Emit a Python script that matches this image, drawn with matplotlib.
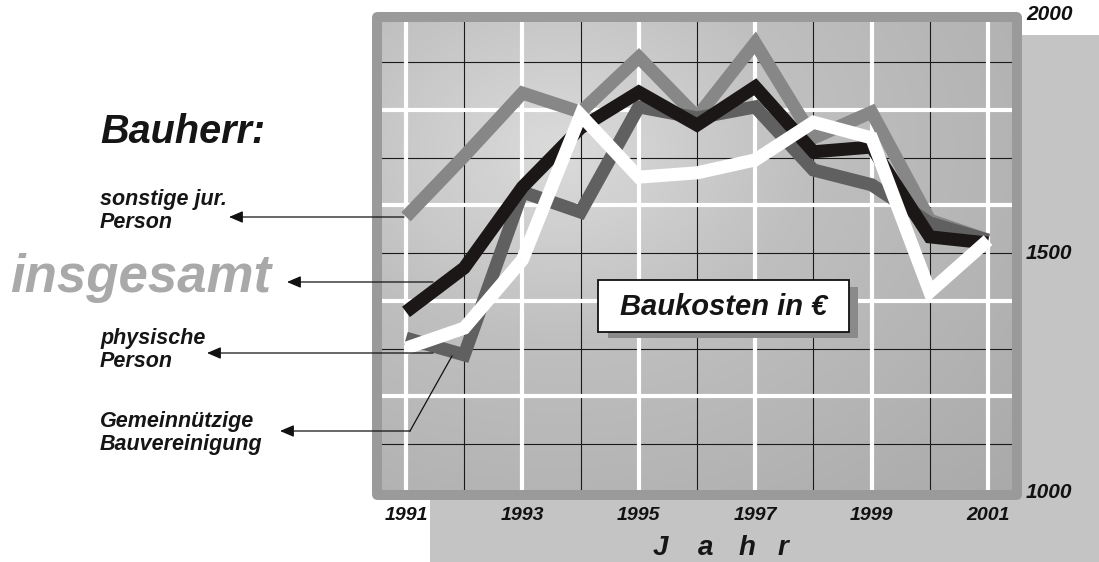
import numpy as np
import matplotlib
matplotlib.use("Agg")
import matplotlib.pyplot as plt
from matplotlib.patches import Rectangle, FancyBboxPatch
from matplotlib.transforms import blended_transform_factory

# ---------------- data ----------------
years = list(range(1991, 2002))
tick_years = [1991, 1993, 1995, 1997, 1999, 2001]
y_labels = [1000, 1500, 2000]

sonstige_jur_person = [1576, 1703, 1835, 1795, 1910, 1785, 1940, 1741, 1795, 1569, 1527]
gemeinnuetzige_bv = [1322, 1287, 1628, 1586, 1806, 1783, 1806, 1674, 1643, 1563, 1527]
insgesamt = [1377, 1469, 1638, 1762, 1837, 1768, 1848, 1712, 1722, 1534, 1521]
physische_person = [1301, 1343, 1486, 1789, 1659, 1668, 1695, 1774, 1741, 1419, 1527]

grid_white_y = [1200, 1400, 1600, 1800]
grid_black_y = [1100, 1300, 1500, 1700, 1900]

# ---------------- layout ----------------
W, H = 1099, 562
FONT = "Liberation Sans"


def fr(x0, y0, x1, y1):
    return [x0 / W, 1 - y1 / H, (x1 - x0) / W, (y1 - y0) / H]


fig = plt.figure(figsize=(W / 100, H / 100), dpi=100)
fig.patch.set_facecolor("white")

# background / decoration axes (pixel coordinates, y downward)
bg = fig.add_axes([0, 0, 1, 1], zorder=0)
bg.set_xlim(0, W)
bg.set_ylim(H, 0)
bg.axis("off")
bg.add_patch(Rectangle((430, 35), W - 430, H - 35, facecolor="#c4c4c4", edgecolor="none"))
bg.add_patch(FancyBboxPatch((372, 12), 650, 488, boxstyle="round,pad=0,rounding_size=6",
                            facecolor="#9a9a9a", edgecolor="none"))

# main plot axes
ax = fig.add_axes(fr(382, 22, 1012, 490), zorder=2)
px_per_year = 58.2
x_lo = 1991 - 24 / px_per_year
x_hi = 2001 + 24 / px_per_year
scale = 0.4778  # pixels per unit
y_lo = 1000 + (492 - 490) / scale
y_hi = 1000 + (492 - 22) / scale
ax.set_xlim(x_lo, x_hi)
ax.set_ylim(y_lo, y_hi)

# gradient background
nx, ny = 630, 468
gx = np.arange(nx) + 382
gy = np.arange(ny) + 22
GX, GY = np.meshgrid(gx, gy)
d = np.sqrt(((GX - 560) / 1.3) ** 2 + (GY - 150) ** 2)
val = np.interp(d, [0, 187, 366, 486, 700], [0.86, 0.75, 0.70, 0.665, 0.63])
img = np.dstack([val, val, val])
ax.imshow(img, extent=[x_lo, x_hi, y_lo, y_hi], origin="upper", aspect="auto", zorder=0)

# grid
for yr in years:
    if yr % 2 == 0:
        ax.axvline(yr, color="#1a1a1a", lw=0.8, zorder=1)
for v in grid_black_y:
    ax.axhline(v, color="#1a1a1a", lw=0.8, zorder=1)
for yr in years:
    if yr % 2 == 1:
        ax.axvline(yr, color="white", lw=3.0, zorder=2)
for v in grid_white_y:
    ax.axhline(v, color="white", lw=3.0, zorder=2)

lw = 9.4
kw = dict(solid_capstyle="butt", solid_joinstyle="miter")
ax.plot(years, sonstige_jur_person, color="#878787", lw=lw, zorder=3, **kw)
ax.plot(years, gemeinnuetzige_bv, color="#606060", lw=lw, zorder=4, **kw)
ax.plot(years, insgesamt, color="#1c1717", lw=lw, zorder=5, **kw)
ax.plot(years, physische_person, color="white", lw=lw, zorder=6, **kw)

for s in ax.spines.values():
    s.set_visible(False)
ax.set_xticks(tick_years)
ax.set_xticklabels([str(t) for t in tick_years], fontfamily=FONT, fontweight="bold",
                   fontstyle="italic", fontsize=14, color="#111111")
ax.tick_params(axis="x", length=0, pad=12)
ax.set_yticks([])

trans = blended_transform_factory(ax.transAxes, ax.transData)
for v in y_labels:
    ax.text(1.022, v, str(v), transform=trans, ha="left", va="center", clip_on=False,
            fontfamily=FONT, fontweight="bold", fontstyle="italic", fontsize=15, color="#111111")

# overlay (pixel coords) for annotations
ov = fig.add_axes([0, 0, 1, 1], zorder=10)
ov.set_xlim(0, W)
ov.set_ylim(H, 0)
ov.axis("off")
ov.patch.set_visible(False)

tkw = dict(fontfamily=FONT, fontweight="bold", fontstyle="italic", color="#151515")
ov.text(100, 132, "Bauherr:", ha="left", va="center", fontsize=28.5, **tkw)
ov.text(100, 211, "sonstige jur.\nPerson", ha="left", va="center", fontsize=15.5, linespacing=1.15, **tkw)
ov.text(100, 350, "physische\nPerson", ha="left", va="center", fontsize=15.5, linespacing=1.15, **tkw)
ov.text(100, 433, "Gemeinnützige\nBauvereinigung", ha="left", va="center", fontsize=15.5, linespacing=1.15, **tkw)
ov.text(10, 278, "insgesamt", ha="left", va="center", fontsize=38, fontfamily=FONT,
        fontweight="bold", fontstyle="italic", color="#a9a9a9")

akw = dict(arrowstyle="-|>,head_length=0.7,head_width=0.3", color="#111111", lw=0.9,
           shrinkA=0, shrinkB=0, mutation_scale=12)
ov.annotate("", xy=(229, 217), xytext=(404, 217), arrowprops=akw)
ov.annotate("", xy=(287, 282), xytext=(433, 282), arrowprops=akw)
ov.annotate("", xy=(207, 353), xytext=(433, 353), arrowprops=akw)
ov.annotate("", xy=(280, 431), xytext=(410, 431), arrowprops=akw)
ov.plot([410, 452], [431, 356], color="#111111", lw=0.9)

# Baukosten box
ov.add_patch(Rectangle((608, 287), 250, 51, facecolor="#8a8a8a", edgecolor="none"))
ov.add_patch(Rectangle((598, 280), 251, 52, facecolor="white", edgecolor="#111111", lw=1.3))
ov.text(724, 307, "Baukosten in €", ha="center", va="center", fontsize=21, **tkw)

# x axis title
for ch, xx in zip("Jahr", [660, 706, 747, 783]):
    ov.text(xx, 548, ch, ha="center", va="center", fontsize=20, **tkw)

fig.savefig("out.png", dpi=100)
